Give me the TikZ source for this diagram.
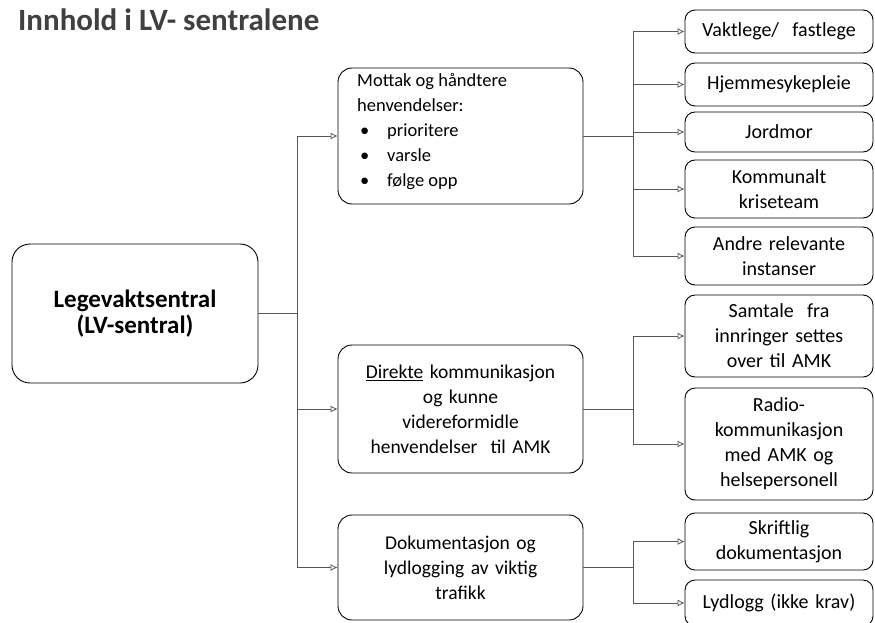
\documentclass[tikz,border=0pt]{standalone}
\usepackage{fontspec}
\setmainfont{Carlito}
\usetikzlibrary{arrows.meta}
\tikzset{
  box/.style={draw=black, line width=0.9pt, rounded corners=14pt, align=center, inner sep=4pt},
  rbox/.style={draw=black, line width=0.9pt, rounded corners=10pt, align=center, inner sep=3pt,
    minimum width=188pt, text width=182pt, font=\fontsize{20}{25}\selectfont},
  mbox/.style={box, minimum width=245pt, text width=237pt, font=\fontsize{19.5}{25}\selectfont},
  conn/.style={draw=black!65, line width=0.8pt},
  arr/.style={conn, -{Latex[open,length=7pt,width=7pt]}},
}
\begin{document}
\begin{tikzpicture}[x=1pt,y=-1pt]
\useasboundingbox (0,0) rectangle (875,622);
\clip (0,0) rectangle (875,622);
\node[anchor=base west, font=\fontsize{31}{32}\bfseries\selectfont, text=black!75, inner sep=0pt] (title) at (18,30) {Innhold i LV- sentralene};

\node[box, rounded corners=18pt, minimum width=246pt, minimum height=139pt, font=\fontsize{25}{26}\bfseries\selectfont] (leg) at (135,313.5) {Legevaktsentral\\(LV-sentral)};

\node[mbox, minimum height=136pt] (mot) at (460.5,136) {};
\node[anchor=north west, inner sep=0pt, align=left, font=\fontsize{18.5}{25}\selectfont] (mottxt) at (357,73)
  {Mottak og håndtere\\henvendelser:\\
   \makebox[30pt][l]{\hspace*{3pt}\textbullet}prioritere\\
   \makebox[30pt][l]{\hspace*{3pt}\textbullet}varsle\\
   \makebox[30pt][l]{\hspace*{3pt}\textbullet}følge opp};
\node[mbox, minimum height=128pt] (dir) at (460.5,409)
  {\underline{Direkte} kommunikasjon\\og kunne\\videreformidle\\henvendelser\ \ til AMK};
\node[mbox, minimum height=105pt] (dok) at (460.5,567.5)
  {Dokumentasjon og\\lydlogging av viktig\\trafikk};

\node[rbox, minimum height=43pt] (r1) at (779,31.5) {Vaktlege/\ \ fastlege};
\node[rbox, minimum height=43pt] (r2) at (779,84.5) {Hjemmesykepleie};
\node[rbox, minimum height=40pt] (r3) at (779,132) {Jordmor};
\node[rbox, minimum height=58pt] (r4) at (779,189) {Kommunalt\\kriseteam};
\node[rbox, minimum height=58pt] (r5) at (779,256) {Andre relevante\\instanser};
\node[rbox, minimum height=82pt] (r6) at (779,336) {Samtale\ \ fra\\innringer settes\\over til AMK};
\node[rbox, minimum height=112pt] (r7) at (779,444) {Radio-\\kommunikasjon\\med AMK og\\helsepersonell};
\node[rbox, minimum height=57pt] (r8) at (779,541.5) {Skriftlig\\dokumentasjon};
\node[rbox, minimum height=46pt] (r9) at (779,603) {Lydlogg (ikke krav)};

\coordinate (t1) at (297,0);
\coordinate (t2) at (633,0);

\draw[conn] (leg.east) -- (leg.east -| t1);
\draw[conn] (t1 |- mot.west) -- (t1 |- dok.west);
\draw[arr] (t1 |- mot.west) -- (mot.west);
\draw[arr] (t1 |- dir.west) -- (dir.west);
\draw[arr] (t1 |- dok.west) -- (dok.west);

\draw[conn] (mot.east) -- (mot.east -| t2);
\draw[conn] (t2 |- r1.west) -- (t2 |- r5.west);
\foreach \r in {r1,r2,r3,r4,r5} \draw[arr] (t2 |- \r.west) -- (\r.west);

\draw[conn] (dir.east) -- (dir.east -| t2);
\draw[conn] (t2 |- r6.west) -- (t2 |- r7.west);
\foreach \r in {r6,r7} \draw[arr] (t2 |- \r.west) -- (\r.west);

\draw[conn] (dok.east) -- (dok.east -| t2);
\draw[conn] (t2 |- r8.west) -- (t2 |- r9.west);
\foreach \r in {r8,r9} \draw[arr] (t2 |- \r.west) -- (\r.west);
\end{tikzpicture}
\end{document}
